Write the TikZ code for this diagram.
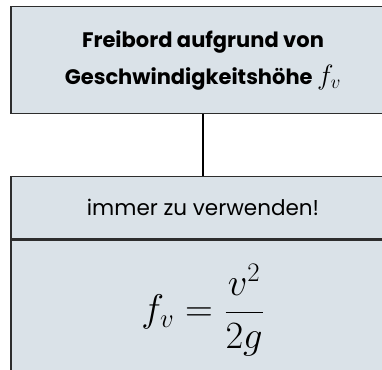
\documentclass[tikz,border=0pt]{standalone}
\usepackage{graphicx}
\usepackage{fontspec}
\setmainfont{Poppins}
\usetikzlibrary{positioning}
\definecolor{boxfill}{RGB}{218,226,232}
\definecolor{boxline}{RGB}{45,45,45}

\begin{document}
\begin{tikzpicture}[
  x=1pt, y=-1pt,
  box/.style={draw=boxline, line width=1.6pt, fill=boxfill, align=center, inner sep=0pt, minimum width=384pt},
  ttl/.style={box, minimum height=107pt, font=\bfseries\fontsize{21}{37}\selectfont},
  hdr/.style={box, minimum height=62pt, font=\fontsize{21.5}{26}\selectfont},
  frm/.style={box, minimum height=140pt, font=\fontsize{24}{30}\selectfont},
  link/.style={draw=black, line width=1.2pt},
]
\useasboundingbox (0,0) rectangle (382,369);
\clip (0,0) rectangle (382,369);
\fill[white] (0,0) rectangle (382,369);

\node[ttl] (title) at (203,60) {Freibord aufgrund von\\Geschwindigkeitshöhe \scalebox{1.35}{$f_v$}};
\node[hdr] (always) at (203,207.5) {immer zu verwenden!};
\node[frm, below=0pt of always] (formula) {\scalebox{1.55}{$\displaystyle f_v=\frac{v^2}{2g}$}};
\draw[link] (title.south) -- (always.north);
\end{tikzpicture}
\end{document}
